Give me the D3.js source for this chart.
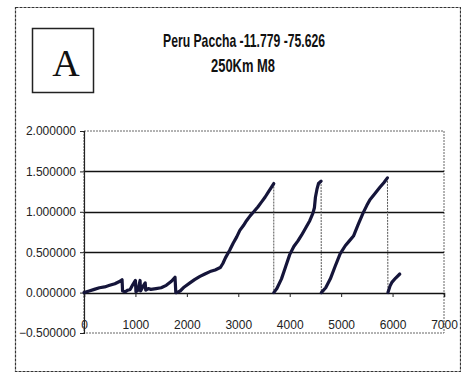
<!DOCTYPE html>
<html>
<head>
<meta charset="utf-8">
<script src="https://cdn.jsdelivr.net/npm/d3@7"></script>
<style>
  body { margin: 0; background: #fff; }
  svg { display: block; }
  .tick text { font-family: "Liberation Sans Narrow", "Arial Narrow", "Liberation Sans", sans-serif; font-size: 12px; fill: #222; }
</style>
</head>
<body>
<div id="chart"></div>
<script>
// title lines
var titleLines = ["Peru Paccha -11.779 -75.626", "250Km M8"];
var panelLabel = "A";

// distance (x) and value (y) of each rise
var rise1X = [0, 100, 200, 300, 400, 500, 600, 700, 740, 750, 800, 850, 900, 950, 1000, 1010, 1050, 1090, 1100, 1150, 1190, 1200, 1250, 1300, 1400, 1500, 1600, 1700, 1770, 1785];
var rise1Y = [0, 0.02, 0.04, 0.06, 0.07, 0.09, 0.11, 0.14, 0.16, 0.02, 0.01, 0.03, 0.04, 0.10, 0.15, 0.01, 0.03, 0.15, 0.02, 0.08, 0.12, 0.03, 0.05, 0.04, 0.05, 0.06, 0.09, 0.14, 0.19, 0.0];
var rise2X = [1800, 1870, 1950, 2060, 2150, 2255, 2350, 2450, 2550, 2650, 2700, 2750, 2830, 2900, 2970, 3030, 3100, 3160, 3230, 3300, 3380, 3450, 3520, 3580, 3640, 3690];
var rise2Y = [0.0, 0.02, 0.07, 0.12, 0.16, 0.20, 0.23, 0.26, 0.28, 0.31, 0.36, 0.43, 0.52, 0.61, 0.69, 0.77, 0.83, 0.89, 0.95, 1.0, 1.06, 1.12, 1.18, 1.24, 1.30, 1.35];
var rise3X = [3690, 3750, 3840, 3920, 4000, 4080, 4160, 4230, 4310, 4390, 4450, 4480, 4500, 4530, 4560, 4610];
var rise3Y = [0, 0.05, 0.17, 0.32, 0.47, 0.57, 0.64, 0.71, 0.80, 0.89, 0.98, 1.05, 1.18, 1.28, 1.35, 1.38];
var rise4X = [4615, 4700, 4790, 4880, 4980, 5080, 5160, 5240, 5330, 5430, 5500, 5560, 5650, 5750, 5830, 5900];
var rise4Y = [0, 0.06, 0.17, 0.32, 0.48, 0.58, 0.64, 0.70, 0.84, 0.99, 1.08, 1.15, 1.22, 1.30, 1.36, 1.42];
var rise5X = [5910, 5950, 5990, 6060, 6140];
var rise5Y = [0, 0.08, 0.13, 0.18, 0.23];

var xTicks = [0, 1000, 2000, 3000, 4000, 5000, 6000, 7000];
var yTicks = [-0.5, 0, 0.5, 1.0, 1.5, 2.0];

var width = 461, height = 374;
var plotLeft = 84, plotRight = 444, plotTop = 131, plotBottom = 333;

var svg = d3.select("#chart").append("svg")
	.attr("width", width)
	.attr("height", height);

// outer chart border
svg.append("rect")
	.attr("x", 15.5).attr("y", 7.5)
	.attr("width", 445).attr("height", 364)
	.attr("fill", "none")
	.attr("stroke", "#333")
	.attr("stroke-width", 1.2)
	.attr("stroke-dasharray", "3,1");

// panel label box
svg.append("rect")
	.attr("x", 32.5).attr("y", 28.5)
	.attr("width", 61).attr("height", 64)
	.attr("fill", "none")
	.attr("stroke", "#222")
	.attr("stroke-width", 1.5);
svg.append("text")
	.attr("x", 66).attr("y", 76)
	.attr("text-anchor", "middle")
	.style("font-family", "'Liberation Serif', 'Times New Roman', serif")
	.style("font-size", "38px")
	.style("fill", "#111")
	.text(panelLabel);

// title
svg.append("text")
	.attr("x", 163).attr("y", 47)
	.attr("textLength", 162)
	.attr("lengthAdjust", "spacingAndGlyphs")
	.style("font-family", "'Liberation Sans Narrow', 'Arial Narrow', sans-serif")
	.style("font-weight", "bold")
	.style("font-size", "18.5px")
	.style("fill", "#111")
	.text(titleLines[0]);
svg.append("text")
	.attr("x", 211).attr("y", 72)
	.attr("textLength", 64)
	.attr("lengthAdjust", "spacingAndGlyphs")
	.style("font-family", "'Liberation Sans Narrow', 'Arial Narrow', sans-serif")
	.style("font-weight", "bold")
	.style("font-size", "18.5px")
	.style("fill", "#111")
	.text(titleLines[1]);

var x = d3.scaleLinear().domain([0, 7000]).range([plotLeft, plotRight]);
var y = d3.scaleLinear().domain([-0.5, 2.0]).range([plotBottom, plotTop]);

// plot area border (dotted)
svg.append("rect")
	.attr("x", plotLeft).attr("y", plotTop)
	.attr("width", plotRight - plotLeft).attr("height", plotBottom - plotTop)
	.attr("fill", "none")
	.attr("stroke", "#666")
	.attr("stroke-width", 1)
	.attr("stroke-dasharray", "2,1");

// gridlines
svg.append("g")
	.selectAll("line")
	.data(yTicks.filter(function (d) { return d > 0 && d < 2; }))
	.enter().append("line")
	.attr("x1", plotLeft).attr("x2", plotRight)
	.attr("y1", function (d) { return Math.round(y(d)) + 0.5; })
	.attr("y2", function (d) { return Math.round(y(d)) + 0.5; })
	.attr("stroke", "#111")
	.attr("stroke-width", 1.3);

// y axis
var yAxis = d3.axisLeft(y).tickValues(yTicks).tickFormat(d3.format(".6f")).tickSize(4).tickPadding(4);
svg.append("g")
	.attr("transform", "translate(" + plotLeft + ",0)")
	.call(yAxis)
	.call(function (g) { g.select(".domain").attr("stroke", "#222").attr("stroke-width", 1.2); })
	.call(function (g) { g.selectAll(".tick line").attr("stroke", "#222"); });

// x axis sits at zero, labels pushed down
var xAxis = d3.axisBottom(x).tickValues(xTicks).tickSize(4).tickPadding(23).tickFormat(d3.format("d"));
svg.append("g")
	.attr("transform", "translate(0," + Math.round(y(0)) + ")")
	.call(xAxis)
	.call(function (g) { g.select(".domain").attr("stroke", "#111").attr("stroke-width", 1.5); })
	.call(function (g) { g.selectAll(".tick line").attr("stroke", "#222"); });

var rises = [
	d3.zip(rise1X, rise1Y),
	d3.zip(rise2X, rise2Y),
	d3.zip(rise3X, rise3Y),
	d3.zip(rise4X, rise4Y),
	d3.zip(rise5X, rise5Y)
];

// thin drops between rises
var drops = [];
for (var i = 0; i < rises.length - 1; i++) {
	drops.push([rises[i][rises[i].length - 1], rises[i + 1][0]]);
}

var line = d3.line()
	.x(function (d) { return x(d[0]); })
	.y(function (d) { return y(d[1]); });

svg.append("g")
	.selectAll("path")
	.data(drops)
	.enter().append("path")
	.attr("d", line)
	.attr("fill", "none")
	.attr("stroke", "#555")
	.attr("stroke-width", 1)
	.attr("stroke-dasharray", "2,1");

svg.append("g")
	.selectAll("path")
	.data(rises)
	.enter().append("path")
	.attr("d", line)
	.attr("fill", "none")
	.attr("stroke", "#15153a")
	.attr("stroke-width", 3.2)
	.attr("stroke-linejoin", "round")
	.attr("stroke-linecap", "round");
</script>
</body>
</html>
